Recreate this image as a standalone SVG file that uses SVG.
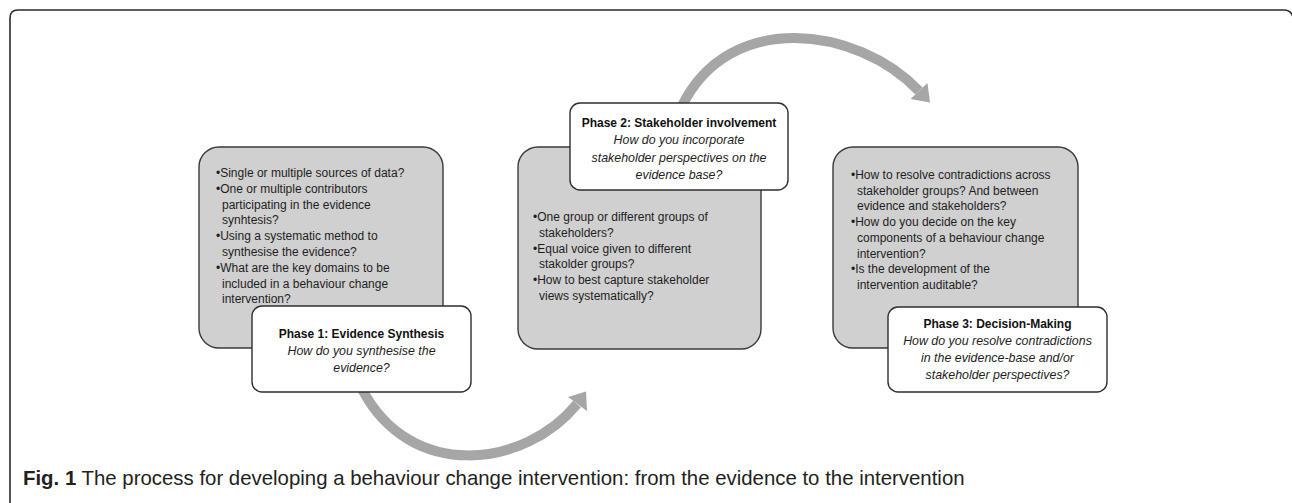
<svg xmlns="http://www.w3.org/2000/svg" width="1292" height="503" viewBox="0 0 1292 503">
<style>
.frame{fill:none;stroke:#2b2b2b;stroke-width:1.6}
.gbox{fill:#d0d0d0;stroke:#3a3a3a;stroke-width:1.4}
.wbox{fill:#ffffff;stroke:#2e2e2e;stroke-width:1.4}
.t{font-family:"Liberation Sans",Arial,sans-serif;font-size:12px;fill:#1e1e1e}
.h{font-family:"Liberation Sans",Arial,sans-serif;font-size:12px;font-weight:bold;fill:#111;text-anchor:middle}
.i{font-family:"Liberation Sans",Arial,sans-serif;font-size:12.4px;font-style:italic;fill:#1e1e1e;text-anchor:middle}
.arc{fill:none;stroke:#a6a6a6;stroke-width:10}
.head{fill:#a6a6a6}
.cap{font-family:"Liberation Sans",Arial,sans-serif;font-size:20.4px;fill:#231f20}
</style>
<rect width="1292" height="503" fill="#ffffff"/>
<path class="frame" d="M10 503 L10 18 Q10 10 18 10 L1284 10 Q1291 10 1293 17"/>

<g id="box1">
<rect class="gbox" x="199" y="147" width="244" height="201" rx="20"/>
<text class="t" x="216" y="177">•Single or multiple sources of data?</text>
<text class="t" x="216" y="192.8">•One or multiple contributors</text>
<text class="t" x="222" y="208.6">participating in the evidence</text>
<text class="t" x="222" y="224.4">synhtesis?</text>
<text class="t" x="216" y="240.2">•Using a systematic method to</text>
<text class="t" x="222" y="256">synthesise the evidence?</text>
<text class="t" x="216" y="271.8">•What are the key domains to be</text>
<text class="t" x="222" y="287.6">included in a behaviour change</text>
<text class="t" x="222" y="303.4">intervention?</text>
</g>

<g id="box2">
<rect class="gbox" x="518" y="147" width="243" height="202" rx="20"/>
<text class="t" x="533" y="221">•One group or different groups of</text>
<text class="t" x="539" y="236.8">stakeholders?</text>
<text class="t" x="533" y="252.6">•Equal voice given to different</text>
<text class="t" x="539" y="268.4">stakolder groups?</text>
<text class="t" x="533" y="284.2">•How to best capture stakeholder</text>
<text class="t" x="539" y="300">views systematically?</text>
</g>

<g id="box3">
<rect class="gbox" x="833" y="147" width="245" height="201" rx="20"/>
<text class="t" x="851" y="179">•How to resolve contradictions across</text>
<text class="t" x="857" y="194.7">stakeholder groups? And between</text>
<text class="t" x="857" y="210.4">evidence and stakeholders?</text>
<text class="t" x="851" y="226.1">•How do you decide on the key</text>
<text class="t" x="857" y="241.8">components of a behaviour change</text>
<text class="t" x="857" y="257.5">intervention?</text>
<text class="t" x="851" y="273.2">•Is the development of the</text>
<text class="t" x="857" y="288.9">intervention auditable?</text>
</g>

<g id="connectors">
<path class="arc" d="M362 389 C410.5 482, 525 468, 577 404"/>
<polygon class="head" points="568,397 586,391.5 587,411"/>
<path class="arc" d="M682 106 C729 9.5, 857 26.2, 919 91"/>
<polygon class="head" points="910.5,99 930,102.5 927.5,83"/>
</g>

<g id="phase1">
<rect class="wbox" x="252" y="306" width="219" height="86" rx="10"/>
<text class="h" x="361.5" y="337.5">Phase 1: Evidence Synthesis</text>
<text class="i" x="361.5" y="354.8">How do you synthesise the</text>
<text class="i" x="361.5" y="372.3">evidence?</text>
</g>

<g id="phase2">
<rect class="wbox" x="570" y="103" width="218" height="87" rx="10"/>
<text class="h" x="679" y="127">Phase 2: Stakeholder involvement</text>
<text class="i" x="679" y="144.3">How do you incorporate</text>
<text class="i" x="679" y="161.6">stakeholder perspectives on the</text>
<text class="i" x="679" y="178.9">evidence base?</text>
</g>

<g id="phase3">
<rect class="wbox" x="888" y="307" width="219" height="85" rx="10"/>
<text class="h" x="997.5" y="327.5">Phase 3: Decision-Making</text>
<text class="i" x="997.5" y="344.8">How do you resolve contradictions</text>
<text class="i" x="997.5" y="362.1">in the evidence-base and/or</text>
<text class="i" x="997.5" y="379.4">stakeholder perspectives?</text>
</g>

<text class="cap" x="23" y="485"><tspan font-weight="bold">Fig. 1</tspan> The process for developing a behaviour change intervention: from the evidence to the intervention</text>
</svg>
